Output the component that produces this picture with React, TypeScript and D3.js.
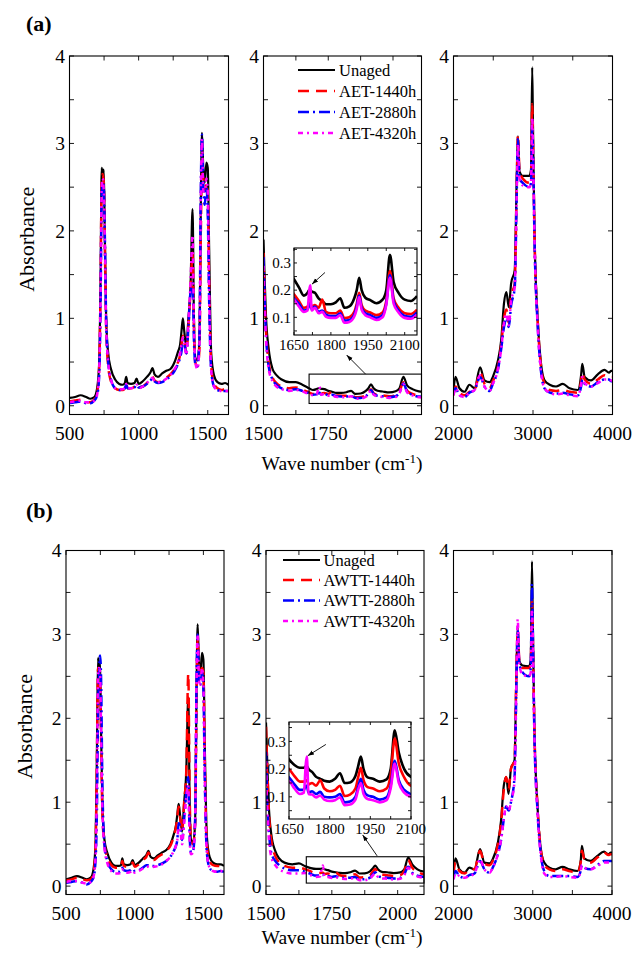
import * as d3 from 'd3';

const FONT = '"Liberation Serif", "Times New Roman", Times, serif';

// wave numbers (cm-1) of the points
const lowWave = [
  500, 540, 580, 620, 650, 680, 700, 715, 725, 733,
  740, 748, 755, 765, 780, 800, 830, 860, 885, 900,
  910, 920, 945, 970, 985, 1000, 1030, 1060, 1085, 1100,
  1115, 1140, 1170, 1200, 1230, 1260, 1285, 1300, 1310, 1320,
  1330, 1345, 1360, 1375, 1390, 1400, 1410, 1425, 1440, 1450,
  1458, 1468, 1478, 1490, 1500, 1510, 1525, 1545, 1570, 1600,
  1625, 1650,
];
const midWave = [
  1500, 1505, 1510, 1520, 1535, 1550, 1570, 1600, 1625, 1650,
  1670, 1690, 1705, 1712, 1716, 1722, 1735, 1750, 1765, 1780,
  1800, 1820, 1838, 1855, 1875, 1895, 1905, 1915, 1925, 1940,
  1960, 1985, 2010, 2025, 2040, 2055, 2075, 2100, 2125, 2150,
];
const highWave = [
  2000, 2025, 2075, 2140, 2200, 2265, 2335, 2390, 2455, 2495,
  2560, 2600, 2635, 2665, 2695, 2725, 2770, 2795, 2810, 2830,
  2870, 2955, 2975, 2990, 3000, 3020, 3060, 3100, 3145, 3210,
  3290, 3375, 3460, 3565, 3605, 3620, 3650, 3730, 3815, 3900,
  3955, 3985, 4000,
];

// (a) AET absorbance
const aLowUnaged = [
  0.09, 0.10, 0.12, 0.10, 0.08, 0.10, 0.20, 0.50, 1.50, 2.72,
  2.62, 2.70, 2.00, 1.00, 0.60, 0.42, 0.30, 0.25, 0.24, 0.26,
  0.33, 0.26, 0.25, 0.26, 0.31, 0.25, 0.28, 0.33, 0.38, 0.43,
  0.36, 0.33, 0.37, 0.40, 0.42, 0.50, 0.62, 0.70, 0.85, 1.00,
  0.85, 0.68, 1.00, 1.35, 2.25, 1.00, 0.55, 0.52, 0.75, 2.30,
  3.12, 2.70, 2.55, 2.78, 2.72, 1.80, 0.60, 0.35, 0.27, 0.25,
  0.26, 0.24,
];
const aLow1440 = [
  0.05, 0.06, 0.07, 0.04, 0.04, 0.07, 0.15, 0.45, 1.40, 2.60,
  2.65, 2.55, 1.90, 0.90, 0.45, 0.28, 0.20, 0.18, 0.18, 0.20,
  0.25, 0.20, 0.20, 0.22, 0.25, 0.21, 0.22, 0.26, 0.30, 0.33,
  0.29, 0.27, 0.28, 0.32, 0.36, 0.42, 0.50, 0.58, 0.70, 0.80,
  0.75, 0.60, 0.90, 1.30, 1.75, 0.90, 0.50, 0.45, 0.65, 2.00,
  2.65, 2.60, 2.45, 2.55, 2.40, 1.40, 0.45, 0.25, 0.20, 0.18,
  0.19, 0.18,
];
const aLow2880 = [
  0.03, 0.04, 0.05, 0.03, 0.03, 0.06, 0.12, 0.35, 1.20, 2.40,
  2.55, 2.50, 2.00, 1.00, 0.50, 0.30, 0.20, 0.18, 0.18, 0.20,
  0.24, 0.20, 0.20, 0.21, 0.24, 0.21, 0.22, 0.25, 0.29, 0.31,
  0.28, 0.26, 0.27, 0.30, 0.34, 0.40, 0.48, 0.55, 0.62, 0.75,
  0.72, 0.60, 0.90, 1.30, 1.40, 0.75, 0.48, 0.45, 0.80, 2.50,
  3.10, 2.50, 2.30, 2.50, 2.20, 1.20, 0.40, 0.22, 0.18, 0.17,
  0.17, 0.17,
];
const aLow4320 = [
  0.04, 0.05, 0.06, 0.04, 0.04, 0.06, 0.13, 0.40, 1.30, 2.50,
  2.60, 2.45, 1.90, 0.90, 0.50, 0.30, 0.20, 0.19, 0.19, 0.20,
  0.25, 0.20, 0.20, 0.21, 0.24, 0.20, 0.22, 0.26, 0.30, 0.32,
  0.28, 0.27, 0.28, 0.31, 0.35, 0.42, 0.50, 0.60, 0.70, 0.78,
  0.72, 0.58, 0.95, 1.40, 1.95, 0.95, 0.50, 0.42, 0.70, 2.40,
  3.05, 2.45, 2.45, 2.60, 2.45, 1.30, 0.40, 0.22, 0.18, 0.17,
  0.17, 0.17,
];
const aMidUnaged = [
  1.90, 1.40, 1.00, 0.65, 0.42, 0.35, 0.30, 0.27, 0.27, 0.24,
  0.21, 0.18, 0.19, 0.20, 0.20, 0.195, 0.19, 0.17, 0.16, 0.148,
  0.148, 0.155, 0.17, 0.135, 0.14, 0.17, 0.20, 0.245, 0.20, 0.172,
  0.163, 0.152, 0.165, 0.20, 0.33, 0.23, 0.19, 0.165, 0.16, 0.178,
];
const aMid1440 = [
  1.75, 1.20, 0.85, 0.50, 0.32, 0.26, 0.22, 0.20, 0.21, 0.185,
  0.16, 0.135, 0.14, 0.15, 0.155, 0.14, 0.145, 0.135, 0.165, 0.12,
  0.115, 0.115, 0.125, 0.097, 0.10, 0.12, 0.15, 0.19, 0.145, 0.125,
  0.118, 0.108, 0.118, 0.16, 0.27, 0.17, 0.135, 0.115, 0.112, 0.128,
];
const aMid2880 = [
  1.70, 1.15, 0.80, 0.45, 0.30, 0.24, 0.20, 0.18, 0.19, 0.17,
  0.15, 0.125, 0.13, 0.145, 0.15, 0.13, 0.14, 0.12, 0.125, 0.11,
  0.105, 0.105, 0.115, 0.088, 0.09, 0.11, 0.14, 0.18, 0.135, 0.115,
  0.108, 0.098, 0.108, 0.15, 0.255, 0.16, 0.125, 0.105, 0.102, 0.118,
];
const aMid4320 = [
  1.60, 1.10, 0.75, 0.42, 0.28, 0.22, 0.19, 0.17, 0.18, 0.165,
  0.14, 0.12, 0.125, 0.20, 0.218, 0.125, 0.135, 0.115, 0.12, 0.102,
  0.098, 0.098, 0.108, 0.08, 0.083, 0.103, 0.13, 0.175, 0.128, 0.108,
  0.10, 0.09, 0.10, 0.145, 0.245, 0.15, 0.118, 0.098, 0.095, 0.11,
];
const aHighUnaged = [
  0.18, 0.33, 0.20, 0.16, 0.24, 0.20, 0.44, 0.29, 0.27, 0.33,
  0.52, 0.75, 1.17, 1.30, 1.13, 1.40, 1.55, 2.60, 3.08, 2.68,
  2.63, 2.63, 2.70, 3.87, 3.20, 1.93, 0.98, 0.49, 0.29, 0.24,
  0.22, 0.25, 0.20, 0.18, 0.35, 0.48, 0.33, 0.29, 0.36, 0.41,
  0.38, 0.40, 0.40,
];
const aHigh1440 = [
  0.12, 0.22, 0.15, 0.12, 0.16, 0.18, 0.38, 0.25, 0.20, 0.28,
  0.45, 0.70, 1.00, 1.10, 0.95, 1.25, 1.40, 2.50, 3.10, 2.70,
  2.60, 2.55, 2.60, 3.45, 3.00, 1.90, 0.95, 0.45, 0.25, 0.18,
  0.17, 0.18, 0.16, 0.15, 0.28, 0.38, 0.30, 0.25, 0.30, 0.35,
  0.33, 0.33, 0.33,
];
const aHigh2880 = [
  0.13, 0.20, 0.12, 0.10, 0.15, 0.18, 0.33, 0.22, 0.17, 0.25,
  0.42, 0.65, 0.90, 1.00, 0.90, 1.15, 1.35, 2.40, 3.05, 2.60,
  2.55, 2.50, 2.55, 3.20, 2.90, 1.85, 0.90, 0.40, 0.20, 0.15,
  0.14, 0.15, 0.13, 0.12, 0.22, 0.30, 0.25, 0.22, 0.27, 0.30,
  0.30, 0.28, 0.28,
];
const aHigh4320 = [
  0.12, 0.20, 0.12, 0.10, 0.15, 0.18, 0.35, 0.22, 0.17, 0.25,
  0.42, 0.65, 0.95, 1.05, 0.92, 1.20, 1.35, 2.40, 3.00, 2.60,
  2.52, 2.50, 2.55, 3.30, 2.95, 1.85, 0.90, 0.40, 0.20, 0.15,
  0.13, 0.14, 0.12, 0.11, 0.24, 0.33, 0.26, 0.22, 0.26, 0.30,
  0.30, 0.29, 0.29,
];

// (b) AWTT absorbance
const bLowUnaged = [
  0.08, 0.10, 0.12, 0.10, 0.08, 0.10, 0.20, 0.50, 1.60, 2.72,
  2.60, 2.68, 1.90, 0.95, 0.55, 0.40, 0.28, 0.24, 0.24, 0.25,
  0.33, 0.26, 0.25, 0.26, 0.31, 0.25, 0.28, 0.33, 0.37, 0.42,
  0.35, 0.33, 0.37, 0.40, 0.43, 0.50, 0.62, 0.72, 0.85, 0.98,
  0.85, 0.65, 1.00, 1.35, 2.25, 1.00, 0.55, 0.52, 0.75, 2.30,
  3.12, 2.65, 2.55, 2.78, 2.70, 1.70, 0.60, 0.35, 0.28, 0.26,
  0.26, 0.24,
];
const bLow1440 = [
  0.07, 0.08, 0.10, 0.08, 0.07, 0.08, 0.16, 0.45, 1.50, 2.60,
  2.55, 2.40, 1.80, 0.85, 0.50, 0.35, 0.25, 0.22, 0.22, 0.23,
  0.30, 0.24, 0.23, 0.24, 0.28, 0.23, 0.26, 0.31, 0.35, 0.40,
  0.34, 0.31, 0.35, 0.38, 0.42, 0.48, 0.60, 0.70, 0.82, 0.95,
  0.82, 0.65, 1.00, 1.35, 2.53, 1.10, 0.55, 0.50, 0.75, 2.20,
  2.95, 2.60, 2.50, 2.60, 2.55, 1.50, 0.50, 0.30, 0.25, 0.24,
  0.24, 0.22,
];
const bLow2880 = [
  0.04, 0.05, 0.06, 0.04, 0.02, 0.05, 0.10, 0.30, 0.90, 2.00,
  2.50, 2.75, 2.50, 1.20, 0.50, 0.30, 0.20, 0.17, 0.17, 0.18,
  0.22, 0.19, 0.18, 0.19, 0.21, 0.18, 0.19, 0.22, 0.25, 0.25,
  0.24, 0.24, 0.25, 0.27, 0.30, 0.35, 0.42, 0.48, 0.55, 0.75,
  0.72, 0.55, 0.80, 1.10, 1.30, 0.60, 0.40, 0.42, 0.80, 2.40,
  3.00, 2.40, 2.40, 2.55, 2.35, 1.30, 0.40, 0.22, 0.18, 0.17,
  0.18, 0.17,
];
const bLow4320 = [
  0.05, 0.06, 0.06, 0.04, 0.03, 0.05, 0.11, 0.35, 1.20, 2.50,
  2.60, 2.55, 1.90, 0.90, 0.45, 0.28, 0.18, 0.15, 0.15, 0.16,
  0.20, 0.17, 0.16, 0.17, 0.19, 0.16, 0.18, 0.21, 0.23, 0.23,
  0.22, 0.23, 0.24, 0.26, 0.30, 0.35, 0.42, 0.48, 0.55, 0.70,
  0.68, 0.50, 0.75, 1.05, 1.20, 0.55, 0.38, 0.40, 0.80, 2.40,
  3.00, 2.45, 2.40, 2.60, 2.40, 1.30, 0.40, 0.22, 0.18, 0.17,
  0.18, 0.17,
];
const bMidUnaged = [
  1.95, 1.45, 1.00, 0.62, 0.42, 0.33, 0.28, 0.26, 0.27, 0.235,
  0.215, 0.205, 0.205, 0.21, 0.21, 0.20, 0.19, 0.172, 0.165, 0.158,
  0.155, 0.165, 0.185, 0.15, 0.152, 0.175, 0.21, 0.245, 0.20, 0.17,
  0.165, 0.155, 0.163, 0.20, 0.34, 0.26, 0.20, 0.172, 0.165, 0.17,
];
const bMid1440 = [
  1.90, 1.40, 0.95, 0.55, 0.36, 0.28, 0.24, 0.22, 0.22, 0.20,
  0.175, 0.155, 0.155, 0.16, 0.16, 0.145, 0.15, 0.14, 0.16, 0.13,
  0.12, 0.125, 0.14, 0.103, 0.108, 0.13, 0.17, 0.205, 0.16, 0.135,
  0.13, 0.12, 0.13, 0.18, 0.31, 0.22, 0.17, 0.14, 0.135, 0.14,
];
const bMid2880 = [
  1.60, 1.00, 0.70, 0.40, 0.30, 0.25, 0.21, 0.19, 0.19, 0.17,
  0.145, 0.125, 0.125, 0.14, 0.14, 0.115, 0.12, 0.11, 0.118, 0.10,
  0.098, 0.10, 0.11, 0.08, 0.083, 0.10, 0.135, 0.165, 0.125, 0.105,
  0.10, 0.09, 0.098, 0.14, 0.23, 0.16, 0.125, 0.11, 0.105, 0.11,
];
const bMid4320 = [
  1.50, 0.90, 0.60, 0.35, 0.25, 0.20, 0.17, 0.15, 0.15, 0.155,
  0.13, 0.11, 0.115, 0.22, 0.245, 0.11, 0.108, 0.098, 0.105, 0.09,
  0.085, 0.088, 0.098, 0.07, 0.072, 0.09, 0.125, 0.15, 0.11, 0.092,
  0.088, 0.08, 0.088, 0.13, 0.22, 0.15, 0.115, 0.10, 0.095, 0.10,
];
const bHighUnaged = [
  0.18, 0.33, 0.20, 0.16, 0.22, 0.20, 0.44, 0.28, 0.27, 0.32,
  0.52, 0.78, 1.20, 1.30, 1.10, 1.40, 1.50, 2.60, 3.08, 2.68,
  2.63, 2.62, 2.70, 3.87, 3.20, 1.93, 0.95, 0.45, 0.28, 0.22,
  0.20, 0.23, 0.20, 0.18, 0.30, 0.48, 0.33, 0.30, 0.36, 0.41,
  0.38, 0.40, 0.40,
];
const bHigh1440 = [
  0.15, 0.28, 0.18, 0.15, 0.20, 0.20, 0.42, 0.27, 0.25, 0.30,
  0.50, 0.75, 1.15, 1.30, 1.15, 1.40, 1.50, 2.60, 3.05, 2.70,
  2.60, 2.60, 2.65, 3.40, 3.00, 1.90, 0.95, 0.45, 0.26, 0.20,
  0.18, 0.20, 0.18, 0.16, 0.28, 0.42, 0.32, 0.28, 0.34, 0.40,
  0.37, 0.38, 0.38,
];
const bHigh2880 = [
  0.10, 0.18, 0.12, 0.10, 0.13, 0.15, 0.30, 0.20, 0.16, 0.22,
  0.38, 0.55, 0.80, 0.95, 0.90, 1.00, 1.30, 2.45, 3.05, 2.65,
  2.55, 2.50, 2.60, 3.60, 3.10, 1.85, 0.90, 0.40, 0.18, 0.12,
  0.12, 0.12, 0.12, 0.11, 0.18, 0.25, 0.22, 0.20, 0.25, 0.30,
  0.30, 0.30, 0.30,
];
const bHigh4320 = [
  0.08, 0.15, 0.12, 0.10, 0.12, 0.15, 0.32, 0.20, 0.16, 0.22,
  0.38, 0.55, 0.80, 0.95, 0.90, 1.00, 1.25, 2.50, 3.18, 2.65,
  2.52, 2.50, 2.55, 3.30, 3.00, 1.85, 0.88, 0.38, 0.15, 0.11,
  0.11, 0.12, 0.11, 0.10, 0.18, 0.25, 0.22, 0.20, 0.24, 0.28,
  0.28, 0.28, 0.28,
];

const legendA = ['Unaged', 'AET-1440h', 'AET-2880h', 'AET-4320h'];
const legendB = ['Unaged', 'AWTT-1440h', 'AWTT-2880h', 'AWTT-4320h'];

const lowLabels = [500, 1000, 1500];
const midLabels = [1500, 1750, 2000];
const highLabels = [2000, 3000, 4000];
const yLabels = [0, 1, 2, 3, 4];
const insetXLabels = [1650, 1800, 1950, 2100];
const insetYLabels = [0.1, 0.2, 0.3];

const styles = [
  { color: '#000000', dash: undefined as string | undefined, width: 2.2 },
  { color: '#ff0000', dash: '11,7', width: 2.5 },
  { color: '#0000ff', dash: '11,4,2,4', width: 2.5 },
  { color: '#ff00ff', dash: '5,4,2,4', width: 2.5 },
];

type Box = { left: number; right: number; top: number; bottom: number };

interface AxesProps {
  id: string;
  box: Box;
  xDomain: [number, number];
  yDomain: [number, number];
  xTicks: number[];
  xLabels: number[];
  yTicks: number[];
  yLabels: number[];
  wave: number[];
  series: number[][];
  inset?: boolean;
}

function Axes({ id, box, xDomain, yDomain, xTicks, xLabels, yTicks, yLabels, wave, series, inset = false }: AxesProps) {
  const x = d3.scaleLinear().domain(xDomain).range([box.left, box.right]);
  const y = d3.scaleLinear().domain(yDomain).range([box.bottom, box.top]);
  const line = d3.line<number>()
    .x((_, i) => x(wave[i]))
    .y((d) => y(d))
    .curve(d3.curveMonotoneX);
  const tick = inset ? 3 : 4.5;
  const fs = inset ? 15 : 19.5;
  const w = box.right - box.left;
  const h = box.bottom - box.top;

  return (
    <g>
      <defs>
        <clipPath id={id}>
          <rect x={box.left} y={box.top} width={w} height={h} />
        </clipPath>
      </defs>
      {inset && <rect x={box.left} y={box.top} width={w} height={h} fill="#fff" />}
      <g clipPath={`url(#${id})`}>
        {series.map((s, i) => (
          <path
            key={i}
            d={line(s) ?? ''}
            fill="none"
            stroke={styles[i].color}
            strokeWidth={inset ? 2.6 : styles[i].width}
            strokeDasharray={inset ? undefined : styles[i].dash}
            strokeLinejoin="round"
          />
        ))}
      </g>
      <g stroke="#000" strokeWidth={0.9}>
        {xTicks.map((v) => (
          <g key={`x${v}`}>
            <line x1={x(v)} x2={x(v)} y1={box.bottom} y2={box.bottom - tick} />
            <line x1={x(v)} x2={x(v)} y1={box.top} y2={box.top + tick} />
          </g>
        ))}
        {yTicks.map((v) => (
          <g key={`y${v}`}>
            <line x1={box.left} x2={box.left + tick} y1={y(v)} y2={y(v)} />
            <line x1={box.right} x2={box.right - tick} y1={y(v)} y2={y(v)} />
          </g>
        ))}
      </g>
      <rect x={box.left} y={box.top} width={w} height={h} fill="none" stroke="#000" strokeWidth={1.1} />
      {xLabels.map((v) => (
        <text key={`xl${v}`} x={x(v)} y={box.bottom + (inset ? 15 : 25.5)} textAnchor="middle" fontSize={fs}>
          {v}
        </text>
      ))}
      {yLabels.map((v) => (
        <text key={`yl${v}`} x={box.left - (inset ? 3 : 4.5)} y={y(v)} dy="0.35em" textAnchor="end" fontSize={fs}>
          {inset ? v.toFixed(1) : v}
        </text>
      ))}
    </g>
  );
}

interface PanelProps {
  tag: string;
  key2: string;
  tagY: number;
  top: number;
  bottom: number;
  lowX: [number, number];
  midX: [number, number];
  highX: [number, number];
  midMax: number;
  low: number[][];
  mid: number[][];
  high: number[][];
  names: string[];
  legend: { x0: number; x1: number; tx: number; rows: number[] };
  inset: Box;
  insetMax: number;
  insetY: [number, number];
  zoomBox: [number, number, number, number];
  zoomArrow: [number, number, number, number];
  spikeArrow: [number, number, number, number];
  titleY: number;
  yTitleX: number;
}

function Panel(p: PanelProps) {
  const yDomain: [number, number] = [-0.1, 4];
  const yTicks = d3.range(0, 4.01, 0.5);
  const midBox = { left: p.midX[0], right: p.midX[1], top: p.top, bottom: p.bottom };
  const mx = d3.scaleLinear().domain([1500, p.midMax]).range([midBox.left, midBox.right]);
  const my = d3.scaleLinear().domain(yDomain).range([p.bottom, p.top]);
  const ix = d3.scaleLinear().domain([1650, p.insetMax]).range([p.inset.left, p.inset.right]);
  const iy = d3.scaleLinear().domain(p.insetY).range([p.inset.bottom, p.inset.top]);
  const [zx0, zx1, zy0, zy1] = p.zoomBox;
  const [ax0, ay0, ax1, ay1] = p.zoomArrow;
  const [sx0, sy0, sx1, sy1] = p.spikeArrow;

  return (
    <g>
      <text x={26} y={p.tagY} fontSize={22} fontWeight="bold">{p.tag}</text>
      <text
        transform={`translate(${p.yTitleX},${(p.top + p.bottom) / 2 + 4}) rotate(-90)`}
        textAnchor="middle"
        fontSize={22}
      >
        Absorbance
      </text>
      <text x={342} y={p.titleY} textAnchor="middle" fontSize={19.5}>
        Wave number (cm<tspan dy={-7} fontSize={13}>-1</tspan><tspan dy={7}>)</tspan>
      </text>

      <Axes
        id={`clip-${p.key2}-low`}
        box={{ left: p.lowX[0], right: p.lowX[1], top: p.top, bottom: p.bottom }}
        xDomain={[500, 1650]}
        yDomain={yDomain}
        xTicks={d3.range(500, 1651, 250)}
        xLabels={lowLabels}
        yTicks={yTicks}
        yLabels={yLabels}
        wave={lowWave}
        series={p.low}
      />
      <Axes
        id={`clip-${p.key2}-mid`}
        box={midBox}
        xDomain={[1500, p.midMax]}
        yDomain={yDomain}
        xTicks={d3.range(1500, p.midMax + 1, 125)}
        xLabels={midLabels}
        yTicks={yTicks}
        yLabels={yLabels}
        wave={midWave}
        series={p.mid}
      />
      <Axes
        id={`clip-${p.key2}-high`}
        box={{ left: p.highX[0], right: p.highX[1], top: p.top, bottom: p.bottom }}
        xDomain={[2000, 4000]}
        yDomain={yDomain}
        xTicks={d3.range(2000, 4001, 500)}
        xLabels={highLabels}
        yTicks={yTicks}
        yLabels={yLabels}
        wave={highWave}
        series={p.high}
      />

      {/* zoom window and inset */}
      <rect
        x={mx(zx0)}
        y={my(zy1)}
        width={Math.min(mx(zx1), midBox.right) - mx(zx0)}
        height={my(zy0) - my(zy1)}
        fill="none"
        stroke="#000"
        strokeWidth={1.1}
      />
      <line x1={mx(ax0)} y1={my(ay0)} x2={mx(ax1)} y2={my(ay1)} stroke="#000" strokeWidth={0.9} markerEnd="url(#arrowhead)" />
      <Axes
        id={`clip-${p.key2}-inset`}
        box={p.inset}
        xDomain={[1650, p.insetMax]}
        yDomain={p.insetY}
        xTicks={d3.range(1650, p.insetMax + 1, 75)}
        xLabels={insetXLabels}
        yTicks={d3.range(0.05, p.insetY[1], 0.05)}
        yLabels={insetYLabels}
        wave={midWave}
        series={p.mid}
        inset
      />
      <line x1={ix(sx0)} y1={iy(sy0)} x2={ix(sx1)} y2={iy(sy1)} stroke="#000" strokeWidth={0.9} markerEnd="url(#arrowhead)" />

      {/* legend */}
      {p.names.map((name, i) => (
        <g key={name}>
          <line
            x1={p.legend.x0}
            x2={p.legend.x1}
            y1={p.legend.rows[i]}
            y2={p.legend.rows[i]}
            stroke={styles[i].color}
            strokeWidth={styles[i].width}
            strokeDasharray={styles[i].dash}
          />
          <text x={p.legend.tx} y={p.legend.rows[i]} dy="0.35em" fontSize={16.5}>{name}</text>
        </g>
      ))}
    </g>
  );
}

export default function App() {
  return (
    <svg
      width={641}
      height={958}
      viewBox="0 0 641 958"
      style={{ position: 'absolute', left: 0, top: 0, background: '#fff', fontFamily: FONT }}
    >
      <defs>
        <marker id="arrowhead" viewBox="0 0 10 10" refX={10} refY={5} markerWidth={7} markerHeight={7} orient="auto">
          <path d="M0,1.5 L10,5 L0,8.5 z" fill="#000" />
        </marker>
      </defs>
      <rect width={641} height={958} fill="#fff" />
      <Panel
        tag="(a)"
        key2="a"
        tagY={31}
        top={56}
        bottom={414.5}
        lowX={[69.5, 228.5]}
        midX={[263.5, 421.5]}
        highX={[453.5, 612.5]}
        midMax={2110}
        low={[aLowUnaged, aLow1440, aLow2880, aLow4320]}
        mid={[aMidUnaged, aMid1440, aMid2880, aMid4320]}
        high={[aHighUnaged, aHigh1440, aHigh2880, aHigh4320]}
        names={legendA}
        legend={{ x0: 298, x1: 335, tx: 339, rows: [70, 91, 112, 133] }}
        inset={{ left: 294, right: 417, top: 248, bottom: 335 }}
        insetMax={2150}
        insetY={[0.035, 0.355]}
        zoomBox={[1676, 2110, 0.026, 0.362]}
        zoomArrow={[1894, 0.362, 1821, 0.58]}
        spikeArrow={[1776, 0.265, 1723, 0.222]}
        titleY={470}
        yTitleX={33.5}
      />
      <Panel
        tag="(b)"
        key2="b"
        tagY={518}
        top={550.5}
        bottom={894.5}
        lowX={[66, 224]}
        midX={[266, 424]}
        highX={[453.5, 612]}
        midMax={2100}
        low={[bLowUnaged, bLow1440, bLow2880, bLow4320]}
        mid={[bMidUnaged, bMid1440, bMid2880, bMid4320]}
        high={[bHighUnaged, bHigh1440, bHigh2880, bHigh4320]}
        names={legendB}
        legend={{ x0: 283, x1: 320, tx: 323.5, rows: [560, 580, 600.5, 621] }}
        inset={{ left: 289, right: 411, top: 722, bottom: 819 }}
        insetMax={2100}
        insetY={[0.02, 0.37]}
        zoomBox={[1653, 2100, 0.036, 0.35]}
        zoomArrow={[1922, 0.36, 1867, 0.61]}
        spikeArrow={[1786, 0.289, 1719, 0.248]}
        titleY={944}
        yTitleX={31.5}
      />
    </svg>
  );
}
